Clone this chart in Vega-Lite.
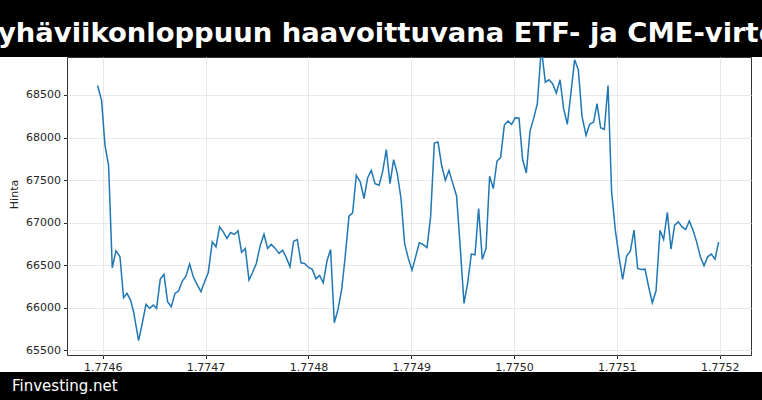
{
  "$schema": "https://vega.github.io/schema/vega-lite/v6.json",
  "width": 684,
  "height": 298,
  "autosize": {"type": "none"},
  "padding": {"left": 67, "top": 57, "right": 11, "bottom": 45},
  "background": "white",
  "view": {"stroke": "#333333", "strokeWidth": 1},
  "config": {
    "font": "DejaVu Sans",
    "axis": {
      "labelFont": "DejaVu Sans",
      "labelFontSize": 11,
      "labelColor": "#262626",
      "tickColor": "#262626",
      "tickSize": 3.5,
      "labelPadding": 3,
      "domain": false,
      "grid": true,
      "gridColor": "#e8e8e8",
      "gridWidth": 1,
      "titleFont": "DejaVu Sans",
      "titleFontSize": 11,
      "titleFontWeight": "normal",
      "titleColor": "#262626"
    }
  },
  "datasets": {
    "price": [
      {"t": 1.77459494, "price": 68611},
      {"t": 1.77459883, "price": 68436},
      {"t": 1.77460214, "price": 67908},
      {"t": 1.77460564, "price": 67674},
      {"t": 1.77460924, "price": 66470},
      {"t": 1.77461284, "price": 66670},
      {"t": 1.77461673, "price": 66600},
      {"t": 1.77462023, "price": 66119},
      {"t": 1.77462354, "price": 66170},
      {"t": 1.77462704, "price": 66092},
      {"t": 1.77462996, "price": 65955},
      {"t": 1.77463483, "price": 65615},
      {"t": 1.77463842, "price": 65819},
      {"t": 1.77464202, "price": 66041},
      {"t": 1.77464553, "price": 65995},
      {"t": 1.77464912, "price": 66033},
      {"t": 1.77465233, "price": 65995},
      {"t": 1.77465593, "price": 66338},
      {"t": 1.77465953, "price": 66393},
      {"t": 1.77466304, "price": 66072},
      {"t": 1.77466663, "price": 66013},
      {"t": 1.77467023, "price": 66170},
      {"t": 1.77467374, "price": 66197},
      {"t": 1.77467733, "price": 66315},
      {"t": 1.77468093, "price": 66373},
      {"t": 1.77468444, "price": 66517},
      {"t": 1.77468804, "price": 66365},
      {"t": 1.77469163, "price": 66276},
      {"t": 1.77469553, "price": 66190},
      {"t": 1.77469903, "price": 66307},
      {"t": 1.77470263, "price": 66416},
      {"t": 1.77470652, "price": 66775},
      {"t": 1.77471012, "price": 66717},
      {"t": 1.77471362, "price": 66951},
      {"t": 1.77471722, "price": 66892},
      {"t": 1.77472082, "price": 66815},
      {"t": 1.77472432, "price": 66885},
      {"t": 1.77472792, "price": 66862},
      {"t": 1.77473152, "price": 66904},
      {"t": 1.77473502, "price": 66651},
      {"t": 1.77473862, "price": 66698},
      {"t": 1.77474222, "price": 66326},
      {"t": 1.77474572, "price": 66416},
      {"t": 1.77474932, "price": 66522},
      {"t": 1.77475321, "price": 66736},
      {"t": 1.77475681, "price": 66865},
      {"t": 1.77476031, "price": 66698},
      {"t": 1.77476391, "price": 66745},
      {"t": 1.77476780, "price": 66698},
      {"t": 1.77477140, "price": 66639},
      {"t": 1.77477490, "price": 66678},
      {"t": 1.77477850, "price": 66592},
      {"t": 1.77478210, "price": 66482},
      {"t": 1.77478560, "price": 66783},
      {"t": 1.77478920, "price": 66803},
      {"t": 1.77479280, "price": 66529},
      {"t": 1.77479630, "price": 66522},
      {"t": 1.77480019, "price": 66475},
      {"t": 1.77480379, "price": 66452},
      {"t": 1.77480739, "price": 66341},
      {"t": 1.77481089, "price": 66381},
      {"t": 1.77481449, "price": 66295},
      {"t": 1.77481809, "price": 66552},
      {"t": 1.77482160, "price": 66686},
      {"t": 1.77482519, "price": 65826},
      {"t": 1.77482879, "price": 65983},
      {"t": 1.77483230, "price": 66209},
      {"t": 1.77483560, "price": 66580},
      {"t": 1.77483949, "price": 67076},
      {"t": 1.77484300, "price": 67115},
      {"t": 1.77484660, "price": 67557},
      {"t": 1.77485049, "price": 67478},
      {"t": 1.77485409, "price": 67284},
      {"t": 1.77485759, "price": 67525},
      {"t": 1.77486119, "price": 67615},
      {"t": 1.77486479, "price": 67459},
      {"t": 1.77486868, "price": 67440},
      {"t": 1.77487218, "price": 67596},
      {"t": 1.77487578, "price": 67858},
      {"t": 1.77487938, "price": 67459},
      {"t": 1.77488288, "price": 67741},
      {"t": 1.77488648, "price": 67577},
      {"t": 1.77489008, "price": 67284},
      {"t": 1.77489358, "price": 66756},
      {"t": 1.77489718, "price": 66581},
      {"t": 1.77490078, "price": 66443},
      {"t": 1.77490428, "price": 66599},
      {"t": 1.77490788, "price": 66763},
      {"t": 1.77491148, "price": 66745},
      {"t": 1.77491537, "price": 66709},
      {"t": 1.77491887, "price": 67068},
      {"t": 1.77492247, "price": 67935},
      {"t": 1.77492607, "price": 67947},
      {"t": 1.77492957, "price": 67674},
      {"t": 1.77493317, "price": 67498},
      {"t": 1.77493677, "price": 67615},
      {"t": 1.77494027, "price": 67467},
      {"t": 1.77494416, "price": 67311},
      {"t": 1.77494776, "price": 66698},
      {"t": 1.77495136, "price": 66053},
      {"t": 1.77495486, "price": 66288},
      {"t": 1.77495846, "price": 66631},
      {"t": 1.77496206, "price": 66623},
      {"t": 1.77496556, "price": 67167},
      {"t": 1.77496916, "price": 66569},
      {"t": 1.77497276, "price": 66698},
      {"t": 1.77497626, "price": 67545},
      {"t": 1.77497986, "price": 67401},
      {"t": 1.77498346, "price": 67724},
      {"t": 1.77498696, "price": 67764},
      {"t": 1.77499056, "price": 68143},
      {"t": 1.77499416, "price": 68193},
      {"t": 1.77499766, "price": 68155},
      {"t": 1.77500126, "price": 68233},
      {"t": 1.77500486, "price": 68228},
      {"t": 1.77500837, "price": 67741},
      {"t": 1.77501196, "price": 67584},
      {"t": 1.77501556, "price": 68076},
      {"t": 1.77501907, "price": 68221},
      {"t": 1.77502266, "price": 68397},
      {"t": 1.77502656, "price": 69050},
      {"t": 1.77503045, "price": 68650},
      {"t": 1.77503405, "price": 68678},
      {"t": 1.77503755, "price": 68632},
      {"t": 1.77504115, "price": 68521},
      {"t": 1.77504475, "price": 68678},
      {"t": 1.77504825, "price": 68338},
      {"t": 1.77505185, "price": 68155},
      {"t": 1.77505545, "price": 68533},
      {"t": 1.77505895, "price": 68913},
      {"t": 1.77506255, "price": 68795},
      {"t": 1.77506615, "price": 68248},
      {"t": 1.77507004, "price": 68026},
      {"t": 1.77507354, "price": 68155},
      {"t": 1.77507743, "price": 68181},
      {"t": 1.77508074, "price": 68397},
      {"t": 1.77508424, "price": 68116},
      {"t": 1.77508784, "price": 68096},
      {"t": 1.77509144, "price": 68611},
      {"t": 1.77509494, "price": 67361},
      {"t": 1.77509854, "price": 66912},
      {"t": 1.77510214, "price": 66600},
      {"t": 1.77510564, "price": 66334},
      {"t": 1.77510953, "price": 66608},
      {"t": 1.77511313, "price": 66666},
      {"t": 1.77511673, "price": 66912},
      {"t": 1.77512023, "price": 66463},
      {"t": 1.77512383, "price": 66452},
      {"t": 1.77512743, "price": 66455},
      {"t": 1.77513093, "price": 66248},
      {"t": 1.77513453, "price": 66060},
      {"t": 1.77513813, "price": 66201},
      {"t": 1.77514202, "price": 66912},
      {"t": 1.77514552, "price": 66803},
      {"t": 1.77514912, "price": 67120},
      {"t": 1.77515272, "price": 66690},
      {"t": 1.77515622, "price": 66971},
      {"t": 1.77515982, "price": 67010},
      {"t": 1.77516342, "price": 66951},
      {"t": 1.77516693, "price": 66920},
      {"t": 1.77517052, "price": 67021},
      {"t": 1.77517412, "price": 66912},
      {"t": 1.77517763, "price": 66775},
      {"t": 1.77518122, "price": 66600},
      {"t": 1.77518482, "price": 66494},
      {"t": 1.77518833, "price": 66600},
      {"t": 1.77519193, "price": 66631},
      {"t": 1.77519552, "price": 66572},
      {"t": 1.77519903, "price": 66775}
    ]
  },
  "layer": [
    {
      "data": {"name": "price"},
      "mark": {"type": "line", "color": "#1f77b4", "strokeWidth": 1.5, "clip": true},
      "encoding": {
        "x": {
          "field": "t",
          "type": "quantitative",
          "scale": {"domain": [1.7745652, 1.7752305], "nice": false, "zero": false},
          "axis": {
            "title": null,
            "values": [1.7746, 1.7747, 1.7748, 1.7749, 1.775, 1.7751, 1.7752],
            "format": ".4f"
          }
        },
        "y": {
          "field": "price",
          "type": "quantitative",
          "scale": {"domain": [65447, 68945], "nice": false, "zero": false},
          "axis": {
            "title": "Hinta",
            "values": [65500, 66000, 66500, 67000, 67500, 68000, 68500],
            "format": "d",
            "titleY": 137,
            "titlePadding": 6
          }
        }
      }
    },
    {
      "data": {"values": [{"band": "header"}]},
      "mark": {"type": "rect", "color": "black", "clip": false},
      "encoding": {
        "x": {"datum": 1.7744},
        "x2": {"datum": 1.7754},
        "y": {"datum": 68945},
        "y2": {"datum": 72000}
      }
    },
    {
      "data": {"values": [{"band": "footer"}]},
      "mark": {"type": "rect", "color": "black", "clip": false},
      "encoding": {
        "x": {"datum": 1.7744},
        "x2": {"datum": 1.7754},
        "y": {"datum": 65247},
        "y2": {"datum": 62000}
      }
    },
    {
      "data": {"values": [{"band": "header"}]},
      "mark": {
        "type": "text",
        "font": "DejaVu Sans",
        "fontWeight": "bold",
        "fontSize": 27.4,
        "color": "white",
        "align": "left",
        "baseline": "alphabetic",
        "clip": false
      },
      "encoding": {
        "x": {"datum": 1.77449809},
        "y": {"datum": 69121},
        "text": {"value": "yhäviikonloppuun haavoittuvana ETF- ja CME-virto"}
      }
    },
    {
      "data": {"values": [{"band": "footer"}]},
      "mark": {
        "type": "text",
        "font": "DejaVu Sans",
        "fontSize": 15,
        "color": "white",
        "align": "left",
        "baseline": "alphabetic",
        "clip": false
      },
      "encoding": {
        "x": {"datum": 1.7745117},
        "y": {"datum": 65024},
        "text": {"value": "Finvesting.net"}
      }
    }
  ]
}
